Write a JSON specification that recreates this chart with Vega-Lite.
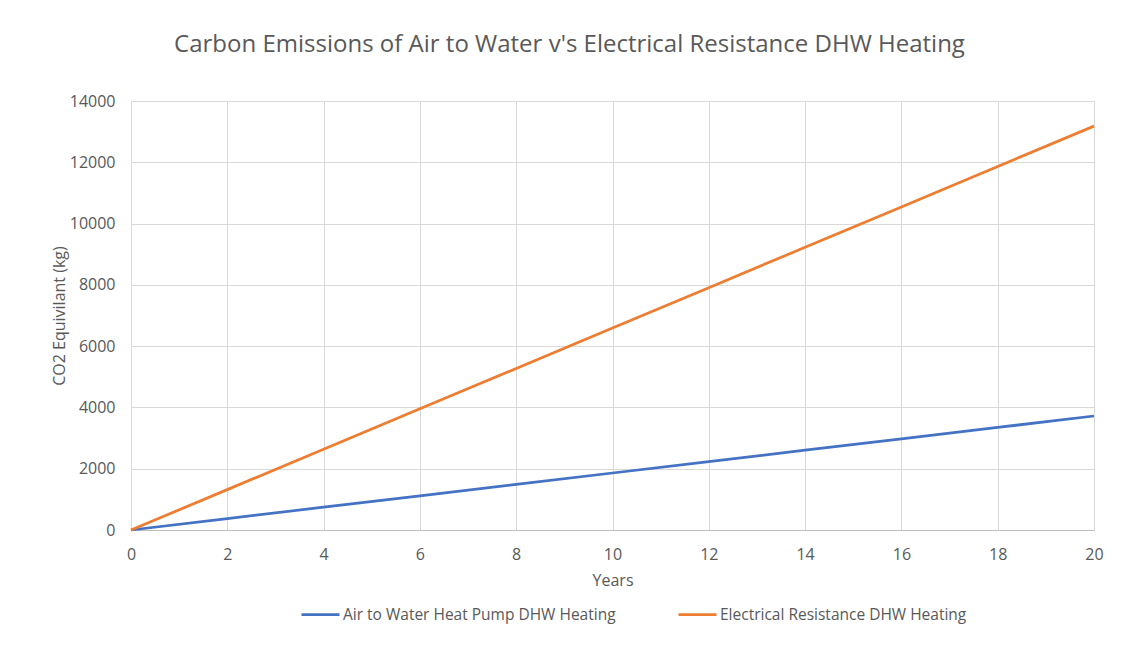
{
  "$schema": "https://vega.github.io/schema/vega-lite/v6.json",
  "width": 963,
  "height": 429,
  "autosize": {"type": "none"},
  "padding": {"left": 131, "top": 101, "right": 32, "bottom": 115},
  "background": "white",
  "title": {
    "text": "Carbon Emissions of Air to Water v's Electrical Resistance DHW Heating",
    "font": "Open Sans",
    "fontSize": 24,
    "fontWeight": "normal",
    "color": "#595959",
    "anchor": "middle",
    "frame": "group",
    "dx": -43,
    "offset": 36
  },
  "data": {
    "values": [
      {"year": 0, "series": "Air to Water Heat Pump DHW Heating", "co2": 0},
      {"year": 2, "series": "Air to Water Heat Pump DHW Heating", "co2": 372},
      {"year": 4, "series": "Air to Water Heat Pump DHW Heating", "co2": 744},
      {"year": 6, "series": "Air to Water Heat Pump DHW Heating", "co2": 1116},
      {"year": 8, "series": "Air to Water Heat Pump DHW Heating", "co2": 1488},
      {"year": 10, "series": "Air to Water Heat Pump DHW Heating", "co2": 1860},
      {"year": 12, "series": "Air to Water Heat Pump DHW Heating", "co2": 2232},
      {"year": 14, "series": "Air to Water Heat Pump DHW Heating", "co2": 2604},
      {"year": 16, "series": "Air to Water Heat Pump DHW Heating", "co2": 2976},
      {"year": 18, "series": "Air to Water Heat Pump DHW Heating", "co2": 3348},
      {"year": 20, "series": "Air to Water Heat Pump DHW Heating", "co2": 3720},
      {"year": 0, "series": "Electrical Resistance DHW Heating", "co2": 0},
      {"year": 2, "series": "Electrical Resistance DHW Heating", "co2": 1318},
      {"year": 4, "series": "Electrical Resistance DHW Heating", "co2": 2636},
      {"year": 6, "series": "Electrical Resistance DHW Heating", "co2": 3954},
      {"year": 8, "series": "Electrical Resistance DHW Heating", "co2": 5272},
      {"year": 10, "series": "Electrical Resistance DHW Heating", "co2": 6590},
      {"year": 12, "series": "Electrical Resistance DHW Heating", "co2": 7908},
      {"year": 14, "series": "Electrical Resistance DHW Heating", "co2": 9226},
      {"year": 16, "series": "Electrical Resistance DHW Heating", "co2": 10544},
      {"year": 18, "series": "Electrical Resistance DHW Heating", "co2": 11862},
      {"year": 20, "series": "Electrical Resistance DHW Heating", "co2": 13180}
    ]
  },
  "mark": {"type": "line", "strokeWidth": 2.75},
  "encoding": {
    "x": {
      "field": "year",
      "type": "quantitative",
      "scale": {"domain": [0, 20], "nice": false},
      "axis": {
        "title": "Years",
        "values": [0, 2, 4, 6, 8, 10, 12, 14, 16, 18, 20],
        "grid": true,
        "gridColor": "#d9d9d9",
        "domainColor": "#bfbfbf",
        "ticks": false,
        "labelFlush": false,
        "labelPadding": 16,
        "labelFont": "Open Sans",
        "labelFontSize": 16,
        "labelColor": "#595959",
        "titleFont": "Open Sans",
        "titleFontSize": 16,
        "titleFontWeight": "normal",
        "titleColor": "#595959",
        "titlePadding": 10
      }
    },
    "y": {
      "field": "co2",
      "type": "quantitative",
      "scale": {"domain": [0, 14000], "nice": false},
      "axis": {
        "title": "CO2 Equivilant (kg)",
        "values": [0, 2000, 4000, 6000, 8000, 10000, 12000, 14000],
        "format": "d",
        "grid": true,
        "gridColor": "#d9d9d9",
        "domainColor": "#d9d9d9",
        "ticks": false,
        "labelPadding": 16,
        "labelFont": "Open Sans",
        "labelFontSize": 16,
        "labelColor": "#595959",
        "titleFont": "Open Sans",
        "titleFontSize": 16,
        "titleFontWeight": "normal",
        "titleColor": "#595959",
        "titlePadding": 2
      }
    },
    "color": {
      "field": "series",
      "type": "nominal",
      "scale": {
        "domain": ["Air to Water Heat Pump DHW Heating", "Electrical Resistance DHW Heating"],
        "range": ["#4472c4", "#ed7d31"]
      },
      "legend": {
        "title": null,
        "orient": "none",
        "legendX": 169,
        "legendY": 493,
        "direction": "horizontal",
        "symbolType": "stroke",
        "symbolSize": 1444,
        "symbolStrokeWidth": 2.75,
        "labelFont": "Open Sans",
        "labelFontSize": 15.5,
        "labelColor": "#595959",
        "labelLimit": 400,
        "columnPadding": 57,
        "labelOffset": 2
      }
    }
  },
  "config": {
    "view": {"stroke": null}
  }
}
